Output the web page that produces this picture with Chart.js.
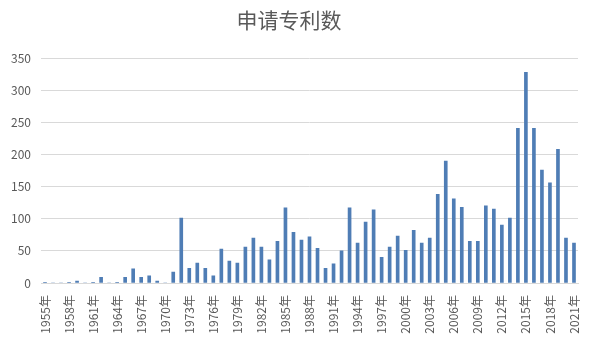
<!DOCTYPE html>
<html>
<head>
<meta charset="utf-8">
<script src="https://cdn.jsdelivr.net/npm/chart.js@4/dist/chart.umd.min.js"></script>
<style>
  html, body { margin: 0; padding: 0; background: #fff; }
  #wrap { width: 596px; height: 352px; position: relative; }
</style>
</head>
<body>
<div id="wrap"><canvas id="c"></canvas></div>
<script>
const YEARS = [];
for (let y = 1955; y <= 2021; y++) YEARS.push(y + "年");

const PATENTS = [
  1, 0, 0, 1, 3, 0, 1, 9, 0, 1,        // 1955-1964
  9, 22, 9, 11, 3, 0, 17, 101, 23, 31, // 1965-1974
  23, 11, 53, 34, 31, 56, 70, 56, 36, 65, // 1975-1984
  117, 79, 67, 72, 54, 23, 30, 50, 117, 62, // 1985-1994
  95, 114, 40, 56, 73, 51, 82, 62, 70, 138, // 1995-2004
  190, 131, 118, 65, 65, 120, 115, 90, 101, 241, // 2005-2014
  328, 241, 176, 156, 208, 70, 62       // 2015-2021
];

const Y_MAX = 350;
const Y_STEP = 50;
const TEXT = "#595959";
const FONT = "'Noto Sans CJK SC', 'Liberation Sans', sans-serif";

new Chart(document.getElementById("c"), {
  type: "bar",
  data: {
    labels: YEARS,
    datasets: [{
      data: PATENTS,
      backgroundColor: "#4F7DB5",
      barThickness: 3,
    }],
  },
  options: {
    responsive: true,
    maintainAspectRatio: false,
    animation: false,
    layout: { padding: { left: 0, right: 18, top: 0, bottom: 0 } },
    plugins: {
      legend: { display: false },
      tooltip: { enabled: false },
      title: {
        display: true,
        text: "申请专利数",
        color: TEXT,
        font: { family: FONT, size: 21, weight: "normal" },
        padding: { top: 7, bottom: 26 },
      },
    },
    scales: {
      x: {
        grid: { display: false },
        border: { color: "#d9d9d9" },
        ticks: {
          autoSkip: false,
          minRotation: 90,
          maxRotation: 90,
          color: TEXT,
          font: { family: FONT, size: 12 },
          padding: 4,
          callback: function (v, i) { return i % 3 === 0 ? this.getLabelForValue(v) : ""; },
        },
        afterFit: (s) => { s.height = 69; },
      },
      y: {
        min: 0,
        max: Y_MAX,
        border: { display: false },
        grid: { color: "#d9d9d9", drawTicks: false },
        ticks: {
          stepSize: Y_STEP,
          color: TEXT,
          font: { family: FONT, size: 12 },
          padding: 10,
        },
        afterFit: (s) => { s.width = 41; },
      },
    },
  },
});
</script>
</body>
</html>
